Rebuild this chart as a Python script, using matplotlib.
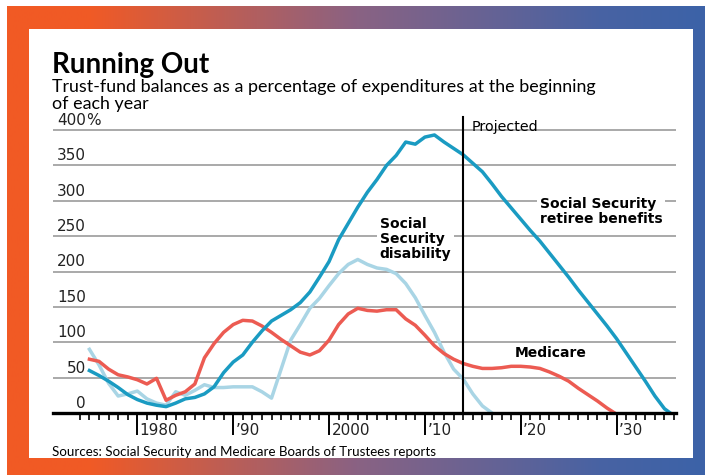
import numpy as np
import matplotlib.pyplot as plt
from matplotlib.colors import LinearSegmentedColormap
from matplotlib.patches import Rectangle
import matplotlib.transforms as mtransforms

# retiree benefits (OASI)
ret_years = [1975, 1976, 1977, 1978, 1979, 1980, 1981, 1982, 1983, 1984, 1985, 1986, 1987,
             1988, 1989, 1990, 1991, 1992, 1993, 1994, 1995, 1996, 1997, 1998, 1999, 2000,
             2001, 2002, 2003, 2004, 2005, 2006, 2007, 2008, 2009, 2010, 2011, 2012, 2013,
             2014, 2015, 2016, 2017, 2018, 2019, 2020, 2021, 2022, 2023, 2024, 2025, 2026,
             2027, 2028, 2029, 2030, 2031, 2032, 2033, 2034, 2035, 2035.6]
ret_vals = [60, 53, 45, 36, 26, 19, 14, 11, 9, 14, 20, 22, 27,
            37, 57, 72, 82, 100, 116, 130, 138, 146, 156, 171, 192, 214,
            245, 268, 291, 312, 330, 350, 364, 383, 380, 390, 393, 383, 374,
            365, 353, 341, 324, 306, 290, 274, 258, 243, 226, 209, 192, 174,
            157, 140, 123, 105, 85, 65, 45, 24, 6, 0]

# disability (DI)
dis_years = [1975, 1976, 1977, 1978, 1979, 1980, 1981, 1982, 1983, 1984, 1985, 1986, 1987,
             1988, 1989, 1990, 1991, 1992, 1993, 1994, 1995, 1996, 1997, 1998, 1999, 2000,
             2001, 2002, 2003, 2004, 2005, 2006, 2007, 2008, 2009, 2010, 2011, 2012, 2013,
             2014, 2015, 2016, 2017]
dis_vals = [90, 68, 42, 24, 27, 31, 20, 14, 11, 30, 25, 32, 40,
            36, 36, 37, 37, 37, 30, 21, 62, 103, 125, 148, 162, 180,
            197, 210, 217, 210, 205, 203, 197, 183, 163, 138, 114, 86, 62,
            48, 27, 10, 0]

# Medicare (HI)
med_years = [1975, 1976, 1977, 1978, 1979, 1980, 1981, 1982, 1983, 1984, 1985, 1986, 1987,
             1988, 1989, 1990, 1991, 1992, 1993, 1994, 1995, 1996, 1997, 1998, 1999, 2000,
             2001, 2002, 2003, 2004, 2005, 2006, 2007, 2008, 2009, 2010, 2011, 2012, 2013,
             2014, 2015, 2016, 2017, 2018, 2019, 2020, 2021, 2022, 2023, 2024, 2025, 2026,
             2027, 2028, 2029, 2029.8]
med_vals = [76, 73, 62, 54, 51, 47, 41, 49, 18, 25, 30, 41, 78,
            98, 114, 125, 131, 130, 123, 114, 104, 95, 86, 82, 88, 103,
            125, 140, 148, 145, 144, 146, 146, 133, 124, 110, 95, 84, 76,
            70, 66, 63, 63, 64, 66, 66, 65, 63, 58, 52, 45, 35,
            26, 17, 7, 0]

y_ticks = [50, 100, 150, 200, 250, 300, 350, 400]
x_major = [1980, 1990, 2000, 2010, 2020, 2030]
x_labels = ['1980', '\u201990', '2000', '\u201910', '\u201920', '\u201930']
projected_year = 2014

fig = plt.figure(figsize=(7.05, 4.75), dpi=100)

# background frame with gradient
bg = fig.add_axes([0, 0, 1, 1], zorder=0)
bg.axis('off')
cmap = LinearSegmentedColormap.from_list('frame', [(0, '#f25a24'), (0.12, '#f05a26'),
                                                   (0.5, '#8a6283'), (0.85, '#4863a3'),
                                                   (1, '#3c62a8')])
grad = np.linspace(0, 1, 256).reshape(1, -1)
bg.imshow(grad, cmap=cmap, extent=(7, 705, 475, 6), aspect='auto')
bg.add_patch(Rectangle((29, 29), 664, 429, facecolor='white', edgecolor='none'))
bg.set_xlim(0, 705)
bg.set_ylim(475, 0)

bg.text(52, 73, 'Running Out', fontsize=20, fontweight='bold', family='Lato',
        ha='left', va='baseline')
bg.text(52, 92, 'Trust-fund balances as a percentage of expenditures at the beginning',
        fontsize=12.9, family='Lato', ha='left', va='baseline')
bg.text(52, 109, 'of each year', fontsize=12.9, family='Lato', ha='left', va='baseline')
bg.text(52, 456, 'Sources: Social Security and Medicare Boards of Trustees reports',
        fontsize=9.6, family='Lato', ha='left', va='baseline')

# main chart
ax = fig.add_axes([53 / 705, 62 / 475, 623 / 705, 294.3 / 475], zorder=1)
ax.set_facecolor('none')
ax.set_xlim(1971.2, 2036.2)
ax.set_ylim(0, 416)

for v in y_ticks:
    ax.axhline(v, color='#a3a3a3', lw=1.3, zorder=1)
    ax.text(1974.65, v + 3, str(v), ha='right', va='bottom', fontsize=11,
            family='DejaVu Sans', color='#222222',
            bbox=dict(facecolor='white', edgecolor='none', pad=0.5), zorder=2)
ax.text(1974.65, 403, '%', ha='left', va='bottom', fontsize=11, color='#222222')
ax.text(1974.65, 3, '0', ha='right', va='bottom', fontsize=11, color='#222222')

ax.plot(dis_years, dis_vals, color='#a9d5e5', lw=2.5, solid_joinstyle='round', zorder=3)
ax.plot(med_years, med_vals, color='#ec5b52', lw=2.5, solid_joinstyle='round', zorder=4)
ax.plot(ret_years, ret_vals, color='#1a9bc2', lw=2.5, solid_joinstyle='round', zorder=5)

ax.plot([projected_year, projected_year], [0, 418], color='black', lw=1.5,
        clip_on=False, zorder=6)
ax.text(projected_year + 0.9, 404, 'Projected', fontsize=10.3, family='DejaVu Sans',
        ha='left', va='center')

lab = dict(fontsize=10, fontweight='bold', family='DejaVu Sans', ha='left',
           va='center', linespacing=1.1, zorder=7,
           bbox=dict(facecolor='white', edgecolor='none', pad=2))
ax.text(2022.0, 285, 'Social Security\nretiree benefits', **lab)
ax.text(2005.3, 246, 'Social\nSecurity\ndisability', **lab)
ax.text(2019.4, 85, 'Medicare', **lab)

# axis
for s in ['top', 'right', 'left']:
    ax.spines[s].set_visible(False)
ax.spines['bottom'].set_linewidth(2.4)
ax.spines['bottom'].set_zorder(8)
ax.set_yticks([])
minor = [yr for yr in range(1974, 2037) if yr not in x_major]
ax.set_xticks(x_major)
ax.set_xticklabels([])
ax.set_xticks(minor, minor=True)
ax.tick_params(axis='x', which='major', direction='out', length=16, width=1.4,
               color='black')
ax.tick_params(axis='x', which='minor', direction='out', length=5, width=1.2,
               color='black')
trans = mtransforms.blended_transform_factory(ax.transData, ax.transAxes)
for yr, lbl in zip(x_major, x_labels):
    ax.text(yr + 0.25, -0.058, lbl, transform=trans, ha='left', va='center',
            fontsize=11, family='DejaVu Sans', color='#222222', clip_on=False)

plt.savefig('out.png', dpi=100)
